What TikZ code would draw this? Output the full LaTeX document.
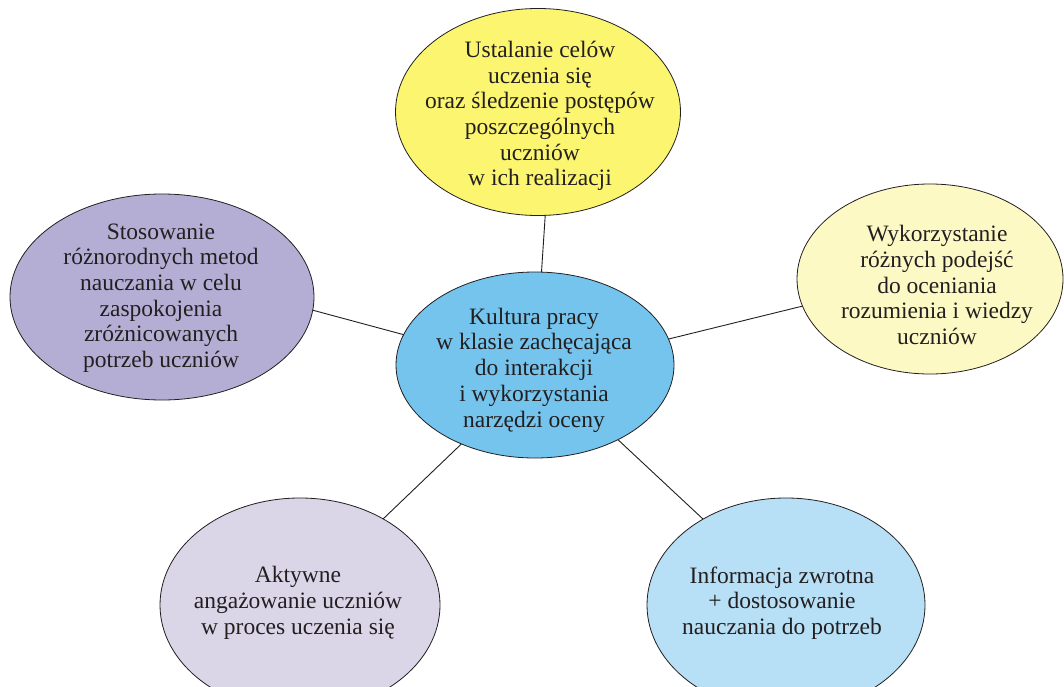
\documentclass[tikz,border=0pt]{standalone}
\usepackage{fontspec}
\setmainfont{Liberation Serif}
\usetikzlibrary{shapes.geometric}
\definecolor{cTop}{RGB}{251,245,112}
\definecolor{cMid}{RGB}{116,196,238}
\definecolor{cLeft}{RGB}{181,174,212}
\definecolor{cRight}{RGB}{253,249,196}
\definecolor{cBL}{RGB}{218,214,232}
\definecolor{cBR}{RGB}{183,223,245}
\definecolor{ink}{RGB}{35,31,32}
\tikzset{
  ell/.style={ellipse, draw=ink, line width=0.8pt, inner sep=0pt, outer sep=0pt},
  txt/.style={align=center, text=ink, font=\fontsize{23.5}{25.7}\selectfont, inner sep=0pt},
  link/.style={draw=ink, line width=0.9pt}
}
\begin{document}
\begin{tikzpicture}[x=1pt,y=-1pt]
\clip (0,0) rectangle (1064,687);
\fill[white] (0,0) rectangle (1064,687);
% ellipses
\node[ell, fill=cTop, minimum width=285pt, minimum height=207pt] (top) at (538,112) {};
\node[ell, fill=cLeft, minimum width=304pt, minimum height=206pt] (left) at (162,297) {};
\node[ell, fill=cRight, minimum width=266pt, minimum height=190pt] (right) at (930,279) {};
\node[ell, fill=cMid, minimum width=278pt, minimum height=186pt] (mid) at (535,365) {};
\node[ell, fill=cBL, minimum width=280pt, minimum height=214pt] (bl) at (300,605) {};
\node[ell, fill=cBR, minimum width=278pt, minimum height=214pt] (br) at (786,605) {};
% connectors
\draw[link] (mid.86.3) -- (top.274.4);
\draw[link] (mid.167.9) -- (left.355.7);
\draw[link] (mid.11.9) -- (right.192.9);
\draw[link] (mid.227.2) -- (bl.46.7);
\draw[link] (mid.318.4) -- (br.134);
% texts
\node[txt] (topt) at (540,116) {Ustalanie celów\\uczenia się\\oraz śledzenie postępów\\poszczególnych\\uczniów\\w ich realizacji};
\node[txt] (leftt) at (161,298) {Stosowanie\\różnorodnych metod\\nauczania w celu\\zaspokojenia\\zróżnicowanych\\potrzeb uczniów};
\node[txt] (rightt) at (937,285) {Wykorzystanie\\różnych podejść\\do oceniania\\rozumienia i wiedzy\\uczniów};
\node[txt] (midt) at (534,370) {Kultura pracy\\w klasie zachęcająca\\do interakcji\\i wykorzystania\\narzędzi oceny};
\node[txt] (blt) at (298,603) {Aktywne\\angażowanie uczniów\\w proces uczenia się};
\node[txt] (brt) at (782,603) {Informacja zwrotna\\+ dostosowanie\\nauczania do potrzeb};
\end{tikzpicture}
\end{document}
